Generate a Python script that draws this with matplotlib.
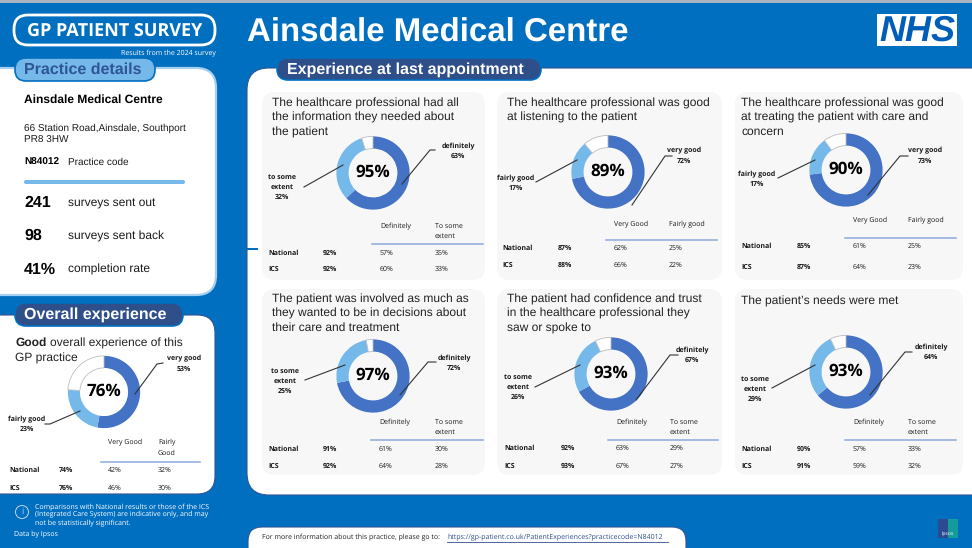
import matplotlib
matplotlib.use("Agg")
import matplotlib.pyplot as plt
from matplotlib.patches import FancyBboxPatch, Rectangle, Circle

plt.rcParams["text.hinting"] = "no_hinting"
plt.rcParams["text.hinting_factor"] = 1

W, H = 972, 548
BLUE = "#016FBF"
DARK = "#4472C4"
LIGHT = "#75B8EA"
NAVY = "#2F4F8B"
SANS = "Liberation Sans"
SMALL = "Open Sans"

# ---------- data ----------
practice_name = "Ainsdale Medical Centre"
address = ["66 Station Road,Ainsdale, Southport", "PR8 3HW"]
practice_code = "N84012"
stat_values = ["241", "98", "41%"]
stat_labels = ["surveys sent out", "surveys sent back", "completion rate"]

titles = [
    ["The healthcare professional had all", "the information they needed about", "the patient"],
    ["The healthcare professional was good", "at listening to the patient"],
    ["The healthcare professional was good", "at treating the patient with care and", "concern"],
    ["The patient was involved as much as", "they wanted to be in decisions about", "their care and treatment"],
    ["The patient had confidence and trust", "in the healthcare professional they", "saw or spoke to"],
    ["The patient\u2019s needs were met"],
]
top_values = [63, 72, 73, 72, 67, 64]
second_values = [32, 17, 17, 25, 26, 29]
rest_values = [5, 11, 10, 3, 7, 7]
center_labels = ["95%", "89%", "90%", "97%", "93%", "93%"]
top_names = ["definitely", "very good", "very good", "definitely", "definitely", "definitely"]
second_names = [["to some", "extent"], ["fairly good"], ["fairly good"],
                ["to some", "extent"], ["to some", "extent"], ["to some", "extent"]]
col_heads = [["Definitely", "To some\nextent"], ["Very Good", "Fairly good"], ["Very Good", "Fairly good"],
             ["Definitely", "To some\nextent"], ["Definitely", "To some\nextent"], ["Definitely", "To some\nextent"]]
national_total = ["92%", "87%", "85%", "91%", "92%", "90%"]
national_a = ["57%", "62%", "61%", "61%", "63%", "57%"]
national_b = ["35%", "25%", "25%", "30%", "29%", "33%"]
ics_total = ["92%", "88%", "87%", "92%", "93%", "91%"]
ics_a = ["60%", "66%", "64%", "64%", "67%", "59%"]
ics_b = ["33%", "22%", "23%", "28%", "27%", "32%"]

overall_values = [53, 23, 24]
overall_center = "76%"
overall_national = ["74%", "42%", "32%"]
overall_ics = ["76%", "46%", "30%"]

# ---------- layout (pixels) ----------
cards = [(262, 92, 223, 188), (497, 92, 225, 188), (735, 92, 228, 188),
         (262, 289, 223, 186), (497, 289, 225, 186), (735, 289, 228, 186)]
donuts = [(373, 173), (608, 172), (846, 170), (373, 376), (611, 374), (846, 372)]
title_y = [103, 103, 103, 299, 299, 301]
title_x = [272, 507, 741, 272, 507, 741]
top_lab = [(458, 146), (684, 151), (925, 151), (454, 358), (692, 350), (931, 347)]
sec_lab = [(282, 177), (516, 178), (757, 174), (285, 371), (518, 377), (755, 379)]
top_lead = [[(435, 150), (430, 150), (402, 184)], [(672, 156), (665, 156), (632, 205)],
            [(908, 156), (900, 156), (868, 195)], [(436, 362), (428, 362), (400, 395)],
            [(678, 355), (670, 355), (636, 400)], [(912, 352), (905, 352), (870, 395)]]
sec_lead = [[(304, 187), (343, 165)], [(536, 182), (577, 160)], [(778, 178), (815, 160)],
            [(305, 380), (345, 365)], [(535, 387), (580, 365)], [(772, 388), (815, 365)]]
table_x = [(268, 323, 380, 435), (502, 558, 614, 669), (741, 797, 853, 908),
           (268, 323, 379, 435), (504, 561, 616, 670), (741, 797, 853, 908)]
table_y = [(226, 244, 253, 269), (225, 240, 248, 265), (220, 238, 246, 267),
           (422, 440, 449, 466), (422, 440, 448, 466), (422, 440, 449, 466)]

fig = plt.figure(figsize=(W / 100, H / 100), dpi=100, facecolor=BLUE)
bg = fig.add_axes([0, 0, 1, 1], zorder=0)
bg.set_xlim(0, W); bg.set_ylim(H, 0); bg.axis("off")
top = fig.add_axes([0, 0, 1, 1], zorder=5)
top.set_xlim(0, W); top.set_ylim(H, 0); top.axis("off"); top.patch.set_alpha(0)


def rbox(ax, x, y, w, h, r, fc, ec="none", lw=0, z=1):
    ax.add_patch(FancyBboxPatch((x + r, y + r), w - 2 * r, h - 2 * r,
                                boxstyle=f"round,pad={r},rounding_size={r}",
                                fc=fc, ec=ec, lw=lw, zorder=z))


def txt(x, y, s, size=8, w="normal", c="#1a1a1a", fam=SANS, ha="left", va="center", **k):
    top.text(x, y, s, fontsize=size, fontweight=w, color=c, family=fam, ha=ha, va=va, **k)


def donut(cx, cy, r, vals, label, size=12.2):
    ax = fig.add_axes([(cx - r) / W, 1 - (cy + r) / H, 2 * r / W, 2 * r / H], zorder=3)
    wedges, _ = ax.pie(vals, colors=[DARK, LIGHT, "white"], startangle=90, counterclock=False, radius=0.99,
                       wedgeprops=dict(width=0.33, edgecolor="none", linewidth=0.6))
    wedges[-1].set_edgecolor("#BDBDBD")
    ax.set_xlim(-1, 1); ax.set_ylim(-1, 1)
    txt(cx, cy - 1, label, size=size, w="bold", c="black", ha="center", fontname=SMALL)


def leader(points):
    top.plot([p[0] for p in points], [p[1] for p in points], color="#333333", lw=0.8)


# ---------- panels ----------
bg.add_patch(Rectangle((0, 0), W, 3, fc="#A9B4C2", ec="none"))
rbox(bg, 247, 68, 760, 427, 22, "white", "#2F5597", 0.8)
rbox(bg, -30, 68, 246, 227, 20, "white", "#A6D0F0", 1.6)
rbox(bg, -30, 315, 245, 179, 18, "white", "#2F5597", 0.8)
for (x, y, w_, h_) in cards:
    rbox(bg, x, y, w_, h_, 13, "#F7F7F7")
bg.add_patch(Rectangle((247, 248), 11, 2, fc=BLUE, ec="none"))
rbox(bg, 248, 527, 438, 40, 14, "white", "#2F5597", 0.8)

# ---------- header ----------
rbox(bg, 14, 15, 201, 30, 14, "none", "white", 2)
txt(114.5, 31, "GP PATIENT SURVEY", size=13.2, w="bold", c="white", fam=SMALL, ha="center")
txt(216, 53, "Results from the 2024 survey", size=5.1, c="white", fam=SMALL, ha="right")
txt(247, 33, practice_name, size=24, w="bold", c="white")
bg.add_patch(Rectangle((877, 14), 80, 32, fc="white", ec="none"))
txt(917, 31, "NHS", size=26, w="bold", c="#005EB8", ha="center", style="italic")

# ---------- pills ----------
rbox(top, 15, 58, 140, 23, 11, LIGHT, BLUE, 1.2)
txt(24, 70, "Practice details", size=11.5, w="bold", c="#2F5597")
rbox(top, 277, 58, 264, 22, 11, NAVY, BLUE, 1.2)
txt(287, 70, "Experience at last appointment", size=11.8, w="bold", c="white")
rbox(top, 15, 303, 168, 23, 11, NAVY, BLUE, 1.2)
txt(24, 315, "Overall experience", size=11.5, w="bold", c="white")

# ---------- practice details ----------
txt(24, 100, practice_name, size=8.7, w="bold", c="black")
txt(24, 128.5, address[0], size=7.2)
txt(24, 140.5, address[1], size=7.2)
txt(24, 162, practice_code, size=7, w="bold", c="black")
txt(68, 162, "Practice code", size=7.1)
rbox(bg, 24, 180, 161, 4, 2, LIGHT)
for i, yy in enumerate([203, 236, 269.5]):
    txt(24, yy, stat_values[i], size=11.5, w="bold", c="black")
    txt(68, yy, stat_labels[i], size=8.6)

# ---------- overall ----------
top.text(15, 343, "Good", fontsize=8.8, fontweight="bold", family=SANS, va="center", color="#222222")
txt(50, 343, "overall experience of this", size=8.8, c="#222222")
txt(15, 358, "GP practice", size=8.8, c="#222222")
donut(104, 392, 36.5, overall_values, overall_center)
BOLD = 5.0
txt(184, 359, "very good", size=BOLD, w="bold", fam=SMALL, ha="center")
txt(184, 369, "53%", size=BOLD, w="bold", fam=SMALL, ha="center")
txt(27, 419, "fairly good", size=BOLD, w="bold", fam=SMALL, ha="center")
txt(27, 429, "23%", size=BOLD, w="bold", fam=SMALL, ha="center")
leader([(163, 363), (157, 364), (135, 394)])
leader([(45, 424), (50, 424), (80, 411)])
txt(108, 443, "Very Good", size=5.4, fam=SMALL)
txt(158, 443, "Fairly", size=5.4, fam=SMALL)
txt(158, 453, "Good", size=5.4, fam=SMALL)
top.plot([101, 200], [462, 462], color="#8EA9DB", lw=1.1)
for yy, name, row in [(470, "National", overall_national), (488, "ICS", overall_ics)]:
    txt(9, yy, name, size=BOLD, w="bold", fam=SMALL)
    txt(59, yy, row[0], size=BOLD, w="bold", fam=SMALL)
    txt(108, yy, row[1], size=5.4, fam=SMALL)
    txt(158, yy, row[2], size=5.4, fam=SMALL)

# ---------- question cards ----------
for i in range(6):
    for k, line in enumerate(titles[i]):
        txt(title_x[i], title_y[i] + k * 14.5, line, size=8.8, c="#222222")
    cx, cy = donuts[i]
    donut(cx, cy, 37, [top_values[i], second_values[i], rest_values[i]], center_labels[i])
    tx, ty = top_lab[i]
    txt(tx, ty, top_names[i], size=BOLD, w="bold", fam=SMALL, ha="center")
    txt(tx, ty + 10, f"{top_values[i]}%", size=BOLD, w="bold", fam=SMALL, ha="center")
    sx, sy = sec_lab[i]
    lines = second_names[i] + [f"{second_values[i]}%"]
    for k, line in enumerate(lines):
        txt(sx, sy + k * 10, line, size=BOLD, w="bold", fam=SMALL, ha="center")
    leader(top_lead[i])
    leader(sec_lead[i])
    x0, x1, x2, x3 = table_x[i]
    yh, yl, yn, yc = table_y[i]
    txt(x2, yh, col_heads[i][0], size=5.4, fam=SMALL)
    if "\n" in col_heads[i][1]:
        a, b = col_heads[i][1].split("\n")
        txt(x3, yh, a, size=5.4, fam=SMALL)
        txt(x3, yh + 10, b, size=5.4, fam=SMALL)
    else:
        txt(x3, yh, col_heads[i][1], size=5.4, fam=SMALL)
    top.plot([x2 - 8, x3 + 48], [yl, yl], color="#8EA9DB", lw=1.1)
    txt(x0, yn, "National", size=BOLD, w="bold", fam=SMALL)
    txt(x1, yn, national_total[i], size=BOLD, w="bold", fam=SMALL)
    txt(x2, yn, national_a[i], size=5.4, fam=SMALL)
    txt(x3, yn, national_b[i], size=5.4, fam=SMALL)
    txt(x0, yc, "ICS", size=BOLD, w="bold", fam=SMALL)
    txt(x1, yc, ics_total[i], size=BOLD, w="bold", fam=SMALL)
    txt(x2, yc, ics_a[i], size=5.4, fam=SMALL)
    txt(x3, yc, ics_b[i], size=5.4, fam=SMALL)

# ---------- footer ----------
top.add_patch(Circle((22, 512), 6.5, fc="none", ec="#BBD8F0", lw=0.7))
txt(22, 512, "i", size=6.5, c="#BBD8F0", fam=SMALL, ha="center")
for yy, line in zip([507, 515, 523], ["Comparisons with National results or those of the ICS",
                                      "(Integrated Care System) are indicative only, and may",
                                      "not be statistically significant."]):
    txt(35, yy, line, size=5.05, c="white", fam=SMALL)
txt(14, 535, "Data by Ipsos", size=5.2, c="white", fam=SMALL)
txt(262, 537.5, "For more information about this practice, please go to:", size=5.1, c="#222222", fam=SMALL)
url = "https://gp-patient.co.uk/PatientExperiences?practicecode=N84012"
txt(447, 537.5, url, size=5.2, c="#2F4F8B", fam=SMALL)
top.plot([447, 668], [541.5, 541.5], color="#2F4F8B", lw=0.6)
bg.add_patch(Rectangle((938, 519), 20, 19, fc="#2B4A8F", ec="none"))
bg.add_patch(Rectangle((948, 519), 10, 19, fc="#149C9C", ec="none"))
txt(948, 533, "Ipsos", size=3.6, c="white", fam=SMALL, ha="center")

fig.savefig("out.png", dpi=100, facecolor=BLUE)
